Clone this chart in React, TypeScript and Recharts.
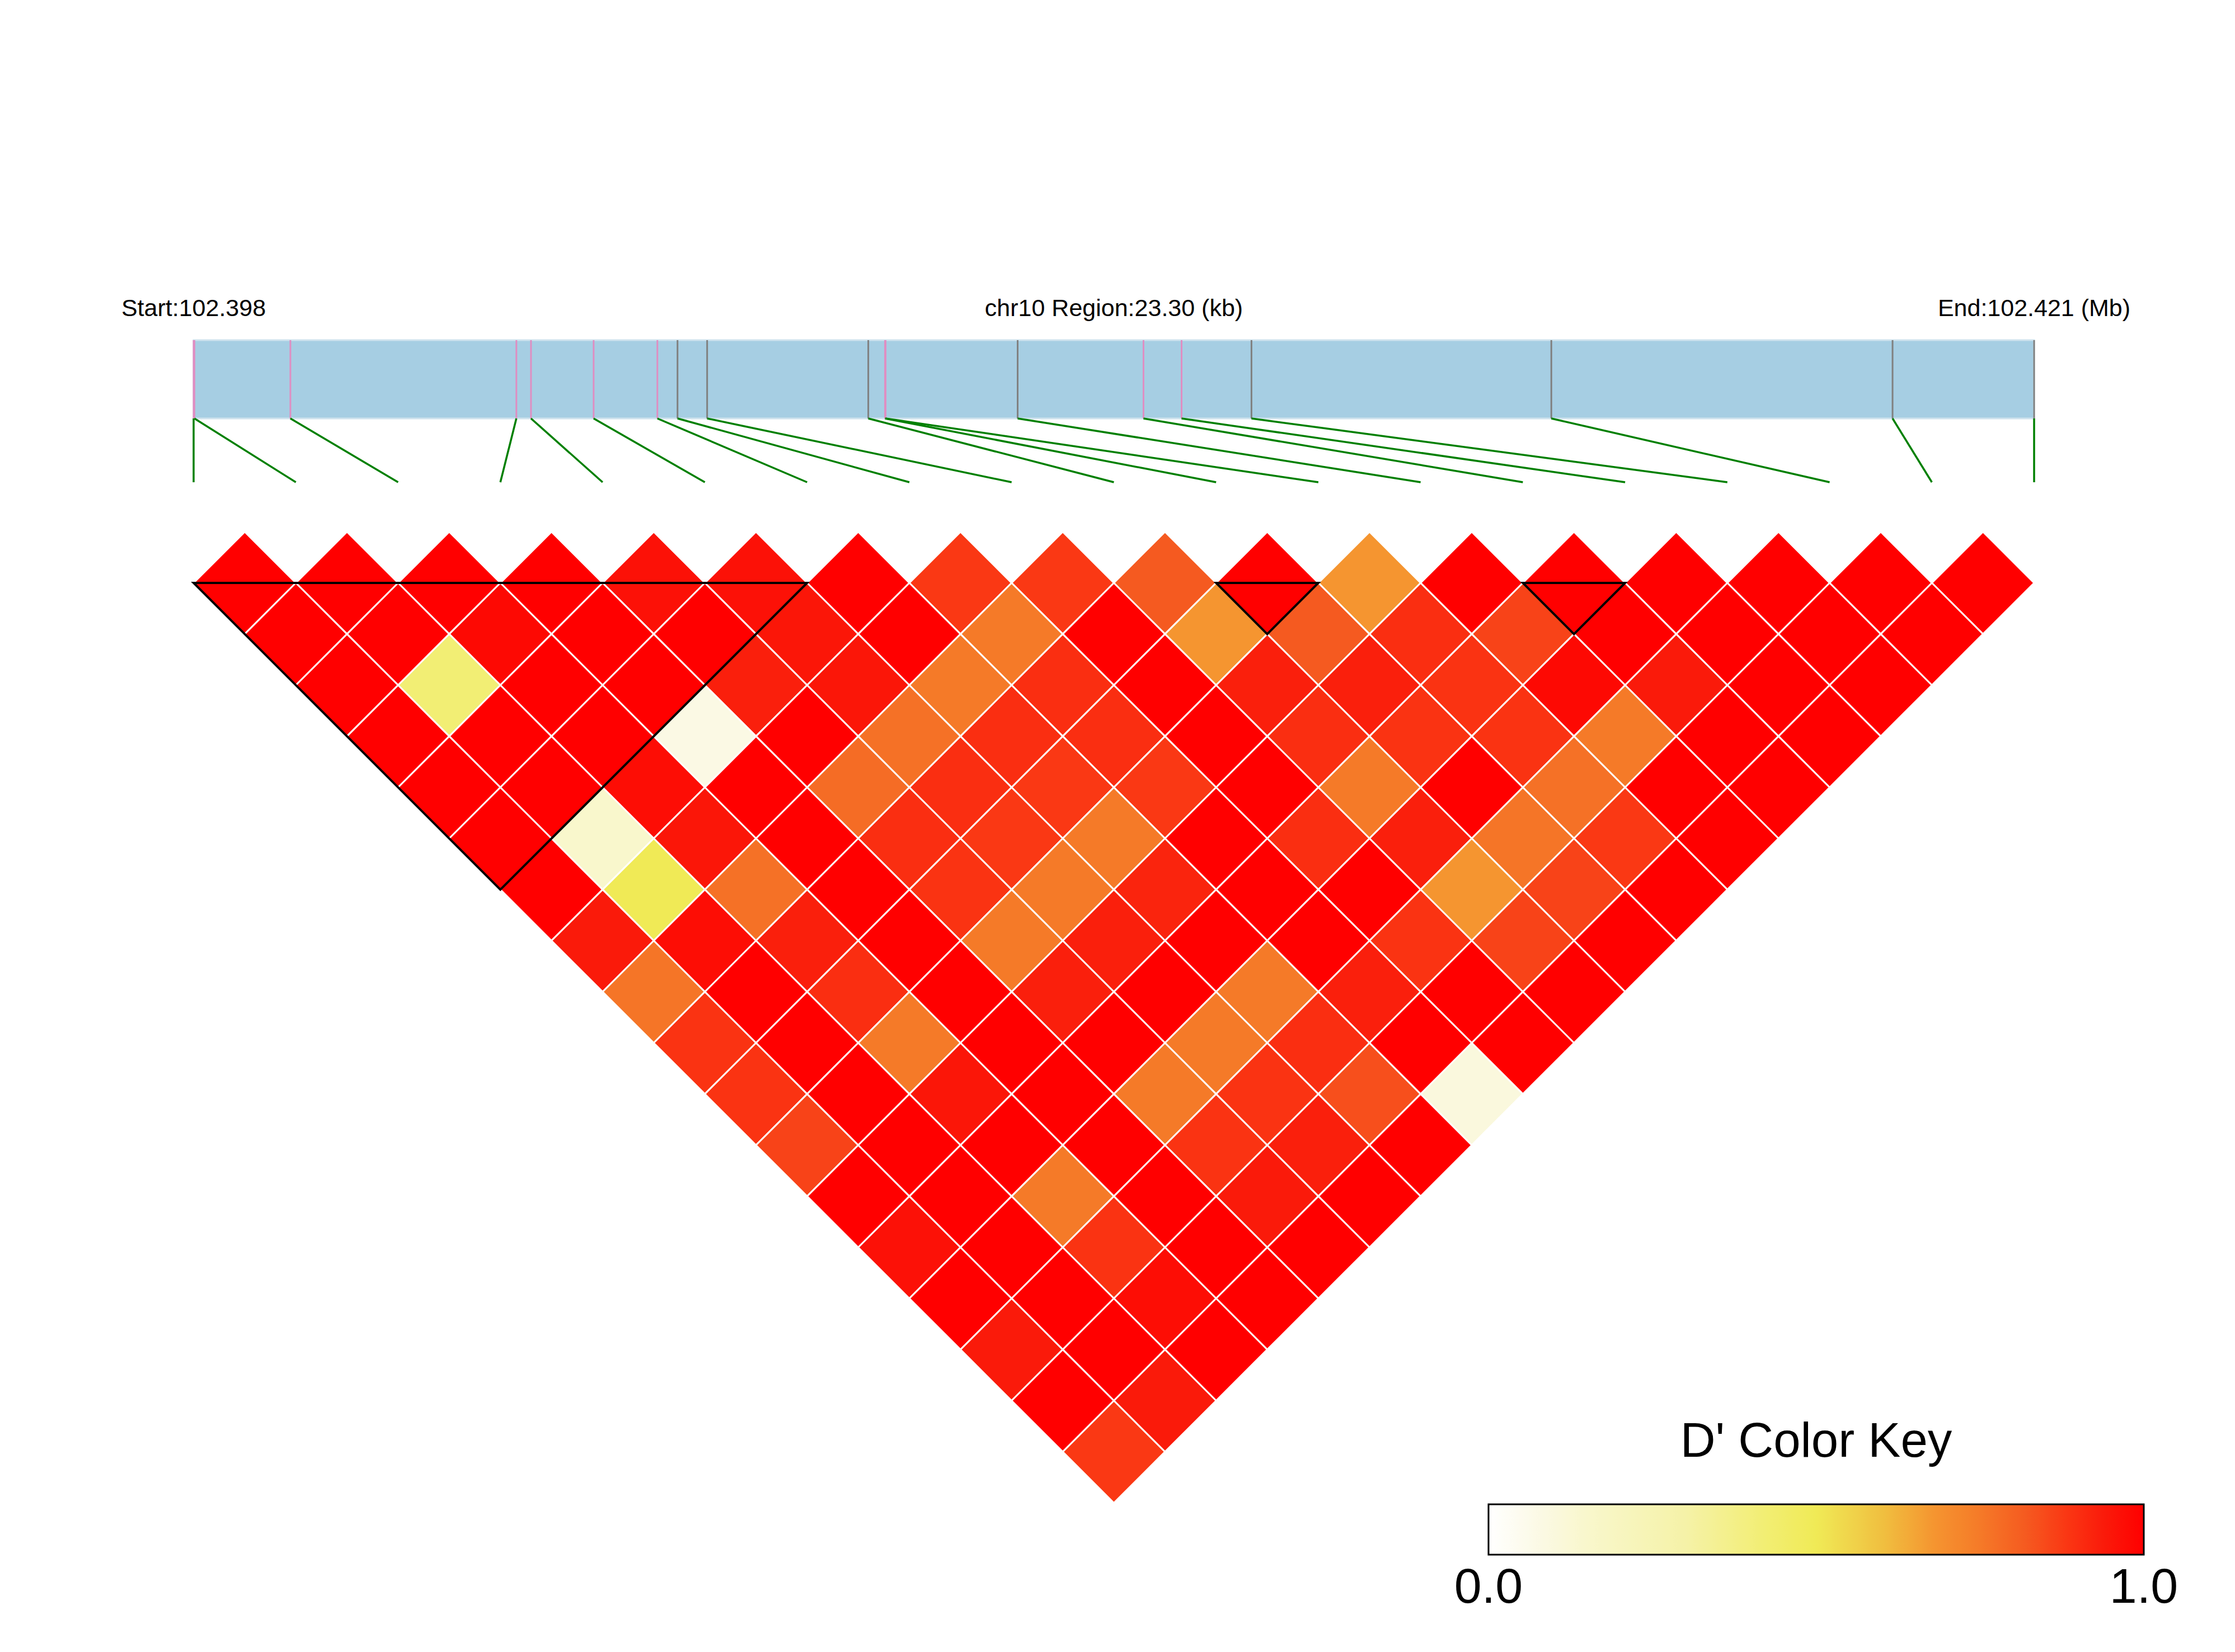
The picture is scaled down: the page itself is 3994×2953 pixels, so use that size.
import React from 'react';
import { ScatterChart, Scatter, XAxis, YAxis, ReferenceArea, ReferenceLine } from 'recharts';

// ---------------- data ----------------
const CHROM = 'chr10';
const REGION_START = 102397960;
const REGION_END = 102421260;

// SNP genomic positions (bp)
const SNP_POS = [
  102397960, 102397970, 102399185, 102402046, 102402231, 102403024, 102403831,
  102404086, 102404461, 102406501, 102406713, 102406720, 102408392, 102409985,
  102410467, 102411352, 102415148, 102419468, 102421260,
];
// marker colour class in the gene bar: P = pink, G = grey
const SNP_MARK = ['P', 'P', 'P', 'P', 'P', 'P', 'P', 'G', 'G', 'G', 'P', 'P', 'G', 'P', 'P', 'G', 'G', 'G', 'G'];

// D' values: DPRIME_ROWS[k-1][i] = D'(SNP i, SNP i+k)
const DPRIME_ROWS: number[][] = [
  [1, 1, 1, 1, 0.96, 0.96, 1, 0.88, 0.88, 0.82, 1, 0.68, 1, 1, 1, 1, 1, 1],
  [1, 1, 0.98, 1, 1, 0.95, 1, 0.75, 1, 0.68, 0.82, 0.9, 0.86, 1, 1, 1, 1],
  [1, 0.42, 1, 1, 0.93, 0.95, 0.75, 0.9, 1, 0.93, 0.93, 0.89, 0.98, 0.94, 1, 1],
  [1, 1, 1, 0.08, 1, 0.77, 0.9, 0.9, 1, 0.9, 0.89, 0.89, 0.75, 1, 1],
  [1, 1, 0.97, 1, 0.78, 0.9, 0.88, 0.88, 1, 0.75, 1, 0.77, 1, 1],
  [1, 0.15, 0.95, 1, 0.9, 0.88, 0.75, 1, 0.9, 0.93, 0.76, 0.88, 1],
  [1, 0.5, 0.77, 1, 0.89, 0.75, 0.92, 1, 1, 0.68, 0.86, 1],
  [0.94, 0.97, 0.93, 1, 0.75, 0.93, 1, 1, 0.89, 0.86, 1],
  [0.76, 1, 0.9, 1, 0.93, 1, 0.75, 0.93, 1, 1],
  [0.89, 1, 0.75, 1, 1, 0.75, 0.9, 1, 1],
  [0.89, 1, 0.95, 1, 0.75, 0.89, 0.84, 0.1],
  [0.86, 1, 1, 1, 0.89, 0.93, 1],
  [1, 1, 0.75, 1, 0.94, 1],
  [0.96, 1, 0.89, 1, 1],
  [1, 1, 0.97, 1],
  [0.94, 1, 1],
  [1, 0.94],
  [0.88],
];

// haplotype blocks [first SNP, last SNP]
const BLOCKS: [number, number][] = [[0, 6], [10, 11], [13, 14]];

const KEY_TITLE = "D' Color Key";
const KEY_TICKS = ['0.0', '1.0'];

// ---------------- layout ----------------
const W = 3994;
const H = 2953;
const N = SNP_POS.length;
const SNP_LEFT_PX = 346;
const SNP_RIGHT_PX = 3635;
const UNIT = (SNP_RIGHT_PX - SNP_LEFT_PX) / (N - 1);
const ROW1_PX = 1042;
const Y_MIN = -3;
const Y_MAX = 10;
const TOP = ROW1_PX + Y_MIN * UNIT;
const BOTTOM = H - TOP - (Y_MAX - Y_MIN) * UNIT;
const BAR_TOP = (608 - ROW1_PX) / UNIT;
const BAR_BOTTOM = (748 - ROW1_PX) / UNIT;
const LINK_END = (862 - ROW1_PX) / UNIT;

const FONT = '"Liberation Sans", Arial, Helvetica, sans-serif';

// colour scale matching the D' key
const STOPS: [number, string][] = [
  [0, '#FFFFFF'], [0.08, '#FBF9E4'], [0.15, '#F9F7CC'], [0.3, '#F5F2A8'], [0.42, '#F2EE74'],
  [0.5, '#F0EA56'], [0.6, '#F0C040'], [0.68, '#F59530'], [0.75, '#F57A28'], [0.82, '#F55A20'],
  [0.88, '#FA3814'], [0.94, '#FA1A0A'], [1, '#FF0000'],
];
const hex = (c: string) => [1, 3, 5].map((k) => parseInt(c.slice(k, k + 2), 16));
const dColor = (d: number) => {
  const v = Math.max(0, Math.min(1, d));
  for (let s = 1; s < STOPS.length; s++) {
    if (v <= STOPS[s][0]) {
      const [a, ca] = STOPS[s - 1];
      const [b, cb] = STOPS[s];
      const t = (v - a) / (b - a || 1);
      const A = hex(ca);
      const B = hex(cb);
      const rgb = A.map((x, k) => Math.round(x + (B[k] - x) * t));
      return `rgb(${rgb[0]},${rgb[1]},${rgb[2]})`;
    }
  }
  return '#FF0000';
};

// ---------------- derived series ----------------
const pairs: { x: number; y: number; d: number }[] = [];
DPRIME_ROWS.forEach((row, r) =>
  row.forEach((d, i) => {
    const j = i + r + 1;
    pairs.push({ x: (i + j) / 2, y: (j - i - 1) / 2, d });
  })
);
const blockPts = BLOCKS.map(([a, b]) => ({ x: (a + b) / 2, y: 0, span: b - a }));
const genoX = (pos: number) => ((pos - REGION_START) / (REGION_END - REGION_START)) * (N - 1);

const Diamond = (props: any) => {
  const { cx, cy, payload } = props;
  const h = UNIT / 2;
  return (
    <polygon
      points={`${cx},${cy - h} ${cx + h},${cy} ${cx},${cy + h} ${cx - h},${cy}`}
      fill={dColor(payload.d)}
      stroke="#FFFFFF"
      strokeWidth={3}
    />
  );
};

const BlockTriangle = (props: any) => {
  const { cx, cy, payload } = props;
  const h = (payload.span * UNIT) / 2;
  return (
    <polygon
      points={`${cx - h},${cy} ${cx + h},${cy} ${cx},${cy + h}`}
      fill="none"
      stroke="#000000"
      strokeWidth={4}
      strokeLinejoin="miter"
    />
  );
};

const KEY_X = 2660;
const KEY_Y = 2689;
const KEY_W = 1171;
const KEY_H = 90;

export default function App() {
  const gradStops = [];
  for (let s = 0; s <= 100; s++) {
    gradStops.push(<stop key={s} offset={`${s}%`} stopColor={dColor(s / 100)} />);
  }
  return (
    <div style={{ position: 'absolute', left: 0, top: 0, width: W, height: H, background: '#fff' }}>
      <ScatterChart
        width={W}
        height={H}
        margin={{ top: TOP, right: W - SNP_RIGHT_PX, bottom: BOTTOM, left: SNP_LEFT_PX }}
      >
        <XAxis type="number" dataKey="x" domain={[0, N - 1]} hide height={0} />
        <YAxis type="number" dataKey="y" domain={[Y_MIN, Y_MAX]} reversed hide width={0} />
        <ReferenceArea
          x1={0}
          x2={N - 1}
          y1={BAR_TOP}
          y2={BAR_BOTTOM}
          fill="#A6CEE3"
          fillOpacity={1}
          stroke="#CFE3EE"
          strokeWidth={3}
        />
        {SNP_POS.map((p, k) => (
          <ReferenceLine
            key={`m${k}`}
            segment={[{ x: genoX(p), y: BAR_TOP }, { x: genoX(p), y: BAR_BOTTOM }]}
            stroke={SNP_MARK[k] === 'P' ? '#DF8EC2' : '#808080'}
            strokeWidth={3}
          />
        ))}
        {SNP_POS.map((p, k) => (
          <ReferenceLine
            key={`g${k}`}
            segment={[{ x: genoX(p), y: BAR_BOTTOM }, { x: k, y: LINK_END }]}
            stroke="#008000"
            strokeWidth={3.5}
          />
        ))}
        <Scatter data={pairs} shape={Diamond} isAnimationActive={false} />
        <Scatter data={blockPts} shape={BlockTriangle} isAnimationActive={false} />
      </ScatterChart>
      <svg
        width={W}
        height={H}
        style={{ position: 'absolute', left: 0, top: 0, pointerEvents: 'none' }}
      >
        <defs>
          <linearGradient id="dkey" x1="0" y1="0" x2="1" y2="0">
            {gradStops}
          </linearGradient>
        </defs>
        <g fontFamily={FONT} fontSize={43} fill="#000" textAnchor="middle">
          <text x={SNP_LEFT_PX} y={565}>{`Start:${(REGION_START / 1e6).toFixed(3)}`}</text>
          <text x={(SNP_LEFT_PX + SNP_RIGHT_PX) / 2} y={565}>
            {`${CHROM} Region:${((REGION_END - REGION_START) / 1000).toFixed(2)} (kb)`}
          </text>
          <text x={SNP_RIGHT_PX} y={565}>{`End:${(REGION_END / 1e6).toFixed(3)} (Mb)`}</text>
        </g>
        <text x={KEY_X + KEY_W / 2} y={2604} fontFamily={FONT} fontSize={87} textAnchor="middle" fill="#000">
          {KEY_TITLE}
        </text>
        <rect x={KEY_X} y={KEY_Y} width={KEY_W} height={KEY_H} fill="url(#dkey)" stroke="#000" strokeWidth={3} />
        <text x={KEY_X} y={2865} fontFamily={FONT} fontSize={88} textAnchor="middle" fill="#000">
          {KEY_TICKS[0]}
        </text>
        <text x={KEY_X + KEY_W} y={2865} fontFamily={FONT} fontSize={88} textAnchor="middle" fill="#000">
          {KEY_TICKS[1]}
        </text>
      </svg>
    </div>
  );
}
